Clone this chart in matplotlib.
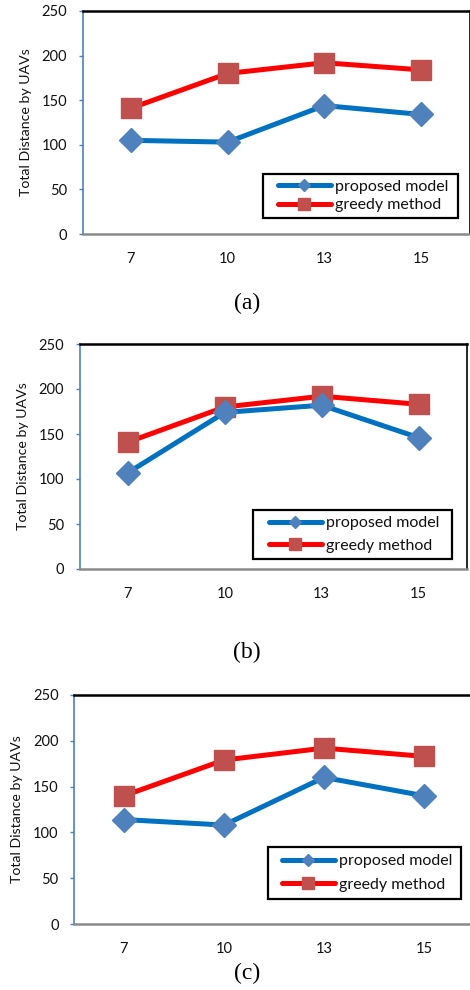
import matplotlib
matplotlib.use("Agg")
import matplotlib.pyplot as plt
from matplotlib.lines import Line2D
from matplotlib.patches import Rectangle

plt.rcParams['font.family'] = ['Lato', 'DejaVu Sans']

categories = ['7', '10', '13', '15']
proposed_a = [105, 103, 144, 134]
greedy_a = [141, 180, 192, 184]
proposed_b = [107, 174, 182, 146]
greedy_b = [141, 180, 192, 183]
proposed_c = [114, 108, 160, 140]
greedy_c = [140, 179, 192, 183]
yticks = [0, 50, 100, 150, 200, 250]
ylabel = 'Total Distance by UAVs'
captions = ['(a)', '(b)', '(c)']
labels = ['proposed model', 'greedy method']

W, H = 470, 990
fig = plt.figure(figsize=(W / 100, H / 100), dpi=100)

# panel geometry in pixels: left, right, top, bottom
panels = [
    dict(box=(82.5, 469.5, 11, 234), prop=proposed_a, greedy=greedy_a,
         frame=(263, 458, 174, 218), hx=278, lsp=0.25, ylab_x=26, cap_y=303),
    dict(box=(79.5, 467, 344, 569), prop=proposed_b, greedy=greedy_b,
         frame=(253, 452, 510, 559), hx=269, lsp=0.55, ylab_x=23, cap_y=652),
    dict(box=(74, 474, 695, 924), prop=proposed_c, greedy=greedy_c,
         frame=(268, 461, 847, 899), hx=282, lsp=0.6, ylab_x=17, cap_y=973),
]

blue_line = '#0070C0'
blue_mark = '#4F81BD'
red_line = '#FF0000'
red_mark = '#C0504D'

for i, p in enumerate(panels):
    l, r, t, b = p['box']
    ax = fig.add_axes([l / W, 1 - b / H, (r - l) / W, (b - t) / H])
    ax.plot(categories, p['greedy'], color=red_line, lw=3.6, marker='s',
            ms=15, mfc=red_mark, mec=red_mark, zorder=3, solid_capstyle='butt')
    ax.plot(categories, p['prop'], color=blue_line, lw=3.6, marker='D',
            ms=12, mfc=blue_mark, mec=blue_mark, zorder=4, solid_capstyle='butt')
    ax.set_xlim(-0.5, 3.5)
    ax.set_ylim(0, 250)
    ax.set_yticks(yticks)
    ax.tick_params(axis='y', direction='out', length=3, width=1,
                   color=blue_mark, labelsize=10.5, pad=8, labelcolor='#111111')
    ax.tick_params(axis='x', length=0, labelsize=10.5, pad=13, labelcolor='#111111')
    ax.spines['left'].set_color(blue_mark)
    ax.spines['left'].set_linewidth(1.2)
    ax.spines['bottom'].set_color('#8a8a8a')
    ax.spines['bottom'].set_linewidth(1.8)
    ax.spines['top'].set_color('black')
    ax.spines['top'].set_linewidth(1.8)
    ax.spines['right'].set_color('black')
    ax.spines['right'].set_linewidth(1.2)

    fig.text(p['ylab_x'] / W, 1 - ((t + b) / 2) / H, ylabel, rotation=90,
             ha='center', va='center', fontsize=10.2, color='#111111')

    # legend frame
    fx0, fx1, fy0, fy1 = p['frame']
    rect = Rectangle((fx0 / W, 1 - fy1 / H), (fx1 - fx0) / W, (fy1 - fy0) / H,
                     transform=fig.transFigure, facecolor='white',
                     edgecolor='black', linewidth=1.6, zorder=5)
    fig.add_artist(rect)

    handles = [
        Line2D([], [], color=blue_line, lw=3.6, marker='D', ms=6,
               mfc=blue_mark, mec=blue_mark, solid_capstyle='round'),
        Line2D([], [], color=red_line, lw=3.6, marker='s', ms=8.5,
               mfc=red_mark, mec=red_mark, solid_capstyle='round'),
    ]
    leg = fig.legend(handles, labels, loc='center left',
                     bbox_to_anchor=(p['hx'] / W, 1 - ((fy0 + fy1) / 2) / H),
                     bbox_transform=fig.transFigure, borderaxespad=0,
                     fontsize=11.5, handlelength=3.3, handletextpad=0.25,
                     frameon=False, borderpad=0, labelspacing=p['lsp'])
    leg.set_zorder(6)
    for txt in leg.get_texts():
        txt.set_color('#111111')

    fig.text(246.7 / W, 1 - p['cap_y'] / H, captions[i], ha='center',
             va='center', fontsize=17, family='Liberation Serif')

fig.savefig('out.png', dpi=100)
